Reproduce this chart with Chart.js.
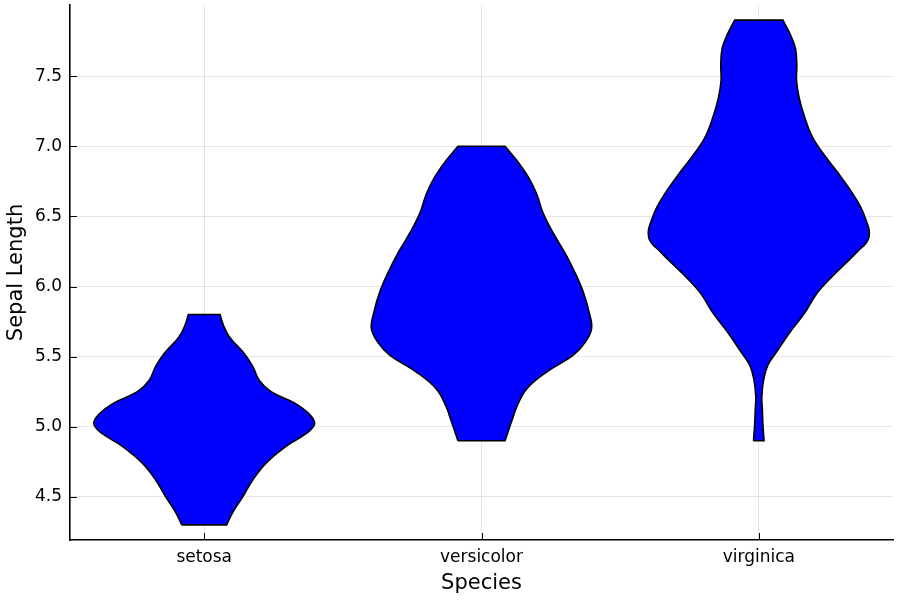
<!DOCTYPE html>
<html>
<head>
<meta charset="UTF-8">
<title>Sepal Length violins</title>
<script src="https://cdn.jsdelivr.net/npm/chart.js"></script>
<style>
  html, body { margin: 0; padding: 0; background: #fff; }
  #wrap { width: 900px; height: 600px; }
</style>
</head>
<body>
<div id="wrap"><canvas id="chart" width="900" height="600"></canvas></div>
<script>
// categories and where they sit on the x axis
const species = ['setosa', 'versicolor', 'virginica'];
const speciesPos = [0.5, 1.5, 2.5];
const yTicks = [4.5, 5.0, 5.5, 6.0, 6.5, 7.0, 7.5];

// violin outlines: sepal length levels and half width of the density at each level
const setosaY = [4.3, 4.39, 4.5, 4.62, 4.74, 4.86, 4.95, 5.02, 5.09, 5.17, 5.25, 5.33, 5.43, 5.52, 5.64, 5.72, 5.8];
const setosaHalfWidth = [0.081, 0.103, 0.139, 0.175, 0.223, 0.295, 0.367, 0.398, 0.379, 0.325, 0.241, 0.199, 0.175, 0.145, 0.091, 0.070, 0.057];

const versicolorY = [4.9, 5.04, 5.15, 5.27, 5.39, 5.51, 5.6, 5.7, 5.81, 5.96, 6.1, 6.24, 6.38, 6.52, 6.66, 6.78, 6.9, 7.0];
const versicolorHalfWidth = [0.085, 0.109, 0.129, 0.163, 0.235, 0.331, 0.373, 0.397, 0.389, 0.367, 0.337, 0.301, 0.259, 0.223, 0.199, 0.169, 0.127, 0.085];

const virginicaY = [4.9, 5.01, 5.11, 5.22, 5.34, 5.44, 5.53, 5.67, 5.81, 5.96, 6.1, 6.24, 6.35, 6.5, 6.64, 6.78, 6.92, 7.06, 7.21, 7.35, 7.47, 7.58, 7.7, 7.8, 7.9];
const virginicaHalfWidth = [0.019, 0.015, 0.013, 0.011, 0.018, 0.033, 0.063, 0.111, 0.165, 0.213, 0.279, 0.351, 0.397, 0.382, 0.346, 0.297, 0.243, 0.195, 0.165, 0.145, 0.136, 0.137, 0.132, 0.113, 0.087];

// closed outline: up the left side, down the right side, back to start.
// end points are doubled so the spline keeps the flat top/bottom corners sharp
function outline(center, ys, hw) {
  const n = ys.length;
  const left = ys.map((y, i) => ({ x: center - hw[i], y }));
  const right = ys.map((y, i) => ({ x: center + hw[i], y })).reverse();
  return [left[0], ...left, left[n - 1], right[0], ...right, right[n - 1], left[0]];
}

const violins = [
  outline(speciesPos[0], setosaY, setosaHalfWidth),
  outline(speciesPos[1], versicolorY, versicolorHalfWidth),
  outline(speciesPos[2], virginicaY, virginicaHalfWidth)
];

// short tick marks pointing into the plot, like the original
const innerTicks = {
  id: 'innerTicks',
  afterDraw(chart) {
    const { ctx, chartArea: a, scales: { x, y } } = chart;
    ctx.save();
    ctx.strokeStyle = '#000';
    ctx.lineWidth = 1;
    ctx.beginPath();
    yTicks.forEach(v => {
      const py = Math.round(y.getPixelForValue(v)) + 0.5;
      ctx.moveTo(a.left, py); ctx.lineTo(a.left + 7, py);
    });
    speciesPos.forEach(v => {
      const px = Math.round(x.getPixelForValue(v)) + 0.5;
      ctx.moveTo(px, a.bottom); ctx.lineTo(px, a.bottom - 7);
    });
    ctx.stroke();
    ctx.restore();
  }
};

const gridColor = 'rgba(0,0,0,0.1)';
const tickFont = { family: 'DejaVu Sans', size: 17 };
const titleFont = { family: 'DejaVu Sans', size: 21, lineHeight: 1 };

new Chart(document.getElementById('chart'), {
  type: 'scatter',
  data: {
    datasets: violins.map((pts, i) => ({
      label: species[i],
      data: pts,
      showLine: true,
      fill: 'shape',
      tension: 0.4,
      backgroundColor: '#0000ff',
      borderColor: '#000',
      borderWidth: 1.6,
      pointRadius: 0,
      pointHoverRadius: 0
    }))
  },
  options: {
    responsive: false,
    animation: false,
    layout: { padding: { top: 5, right: 7, left: 0, bottom: 0 } },
    plugins: { legend: { display: false }, tooltip: { enabled: false } },
    scales: {
      x: {
        type: 'linear',
        min: 0.016, max: 2.984,
        afterBuildTicks: s => { s.ticks = speciesPos.map(v => ({ value: v })); },
        afterFit: s => { s.height = 60; s.paddingLeft = 0; s.paddingRight = 0; },
        ticks: {
          font: tickFont, color: '#000', padding: 7,
          callback: (v) => species[speciesPos.indexOf(v)]
        },
        grid: { color: gridColor, drawTicks: false },
        border: { color: '#000', width: 1.6 },
        title: {
          display: true, text: 'Species', color: '#000',
          font: titleFont,
          padding: { top: 0, bottom: 6 }
        }
      },
      y: {
        min: 4.192, max: 8.008,
        afterBuildTicks: s => { s.ticks = yTicks.map(v => ({ value: v })); },
        afterFit: s => { s.width = 70; s.paddingTop = 0; s.paddingBottom = 0; },
        ticks: {
          font: tickFont, color: '#000', padding: 8,
          callback: v => v.toFixed(1)
        },
        grid: { color: gridColor, drawTicks: false },
        border: { color: '#000', width: 1.6 },
        title: {
          display: true, text: 'Sepal Length', color: '#000',
          font: titleFont,
          padding: { top: 6, bottom: 0 }
        }
      }
    }
  },
  plugins: [innerTicks]
});
</script>
</body>
</html>
